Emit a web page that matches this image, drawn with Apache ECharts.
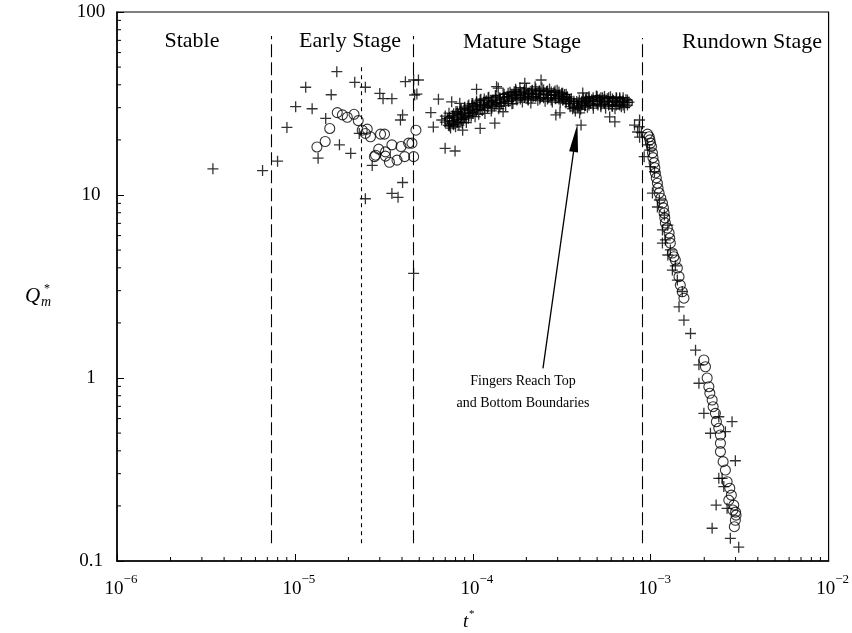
<!DOCTYPE html>
<html>
<head>
<meta charset="utf-8">
<script src="https://cdn.jsdelivr.net/npm/echarts@6/dist/echarts.min.js"></script>
<style>
  html, body { margin: 0; padding: 0; background: #fff; }
  #chart { width: 852px; height: 633px; }
</style>
</head>
<body>
<div id="chart"></div>
<script>
// Axis decades and minor-tick multipliers
const xDecades = [1e-6, 1e-5, 1e-4, 1e-3, 1e-2];
const yDecades = [0.1, 1, 10, 100];
const minorSteps = [2, 3, 4, 5, 6, 7, 8, 9];

// Stage boundaries (t*) and the Q* span of each dashed divider
const stageBounds = [7.4e-6, 2.36e-5, 4.61e-5, 9.0e-4];
const stageTops = [74, 50, 74, 72];
const stageBottom = 0.125;
const stageNames = ['Stable', 'Early Stage', 'Mature Stage', 'Rundown Stage'];

// "+" series: (t*, Qm*)
const plusEarly = [
  [3.46e-6, 13.9], [6.58e-6, 13.6], [7.99e-6, 15.3], [9.02e-6, 23.4], [1.01e-5, 30.4],
  [1.15e-5, 38.8], [1.25e-5, 29.6], [1.49e-5, 26.2], [1.35e-5, 15.9], [1.60e-5, 35.3],
  [1.72e-5, 47.2], [1.78e-5, 18.8], [2.06e-5, 16.9], [2.17e-5, 41.3], [2.30e-5, 21.7],
  [2.49e-5, 38.8], [2.72e-5, 14.5], [2.49e-5, 9.54], [3.00e-5, 35.9], [3.13e-5, 33.6],
  [3.51e-5, 33.6], [3.51e-5, 10.2], [3.80e-5, 9.71], [4.03e-5, 11.7], [3.92e-5, 25.7],
  [4.03e-5, 27.4], [4.18e-5, 41.6], [4.65e-5, 42.5], [4.71e-5, 35.2], [4.65e-5, 3.73]
];
const plusMature = [
  [4.95e-5, 42.5], [4.85e-5, 35.6], [5.81e-5, 28.2], [6.00e-5, 23.5], [6.41e-5, 33.4],
  [6.69e-5, 25.7], [6.99e-5, 18.0], [7.95e-5, 17.4], [7.61e-5, 32.3], [8.45e-5, 31.7],
  [8.77e-5, 22.6], [1.05e-4, 37.8], [1.36e-4, 39.1], [1.71e-4, 36.7], [1.96e-4, 40.8],
  [1.33e-4, 24.7], [1.10e-4, 23.1], [1.48e-4, 28.5], [2.42e-4, 42.5], [3.09e-4, 28.1],
  [3.99e-4, 28.1], [4.06e-4, 24.1], [4.37e-4, 33.9], [5.88e-4, 26.7], [6.29e-4, 25.1],
  [4.15e-4, 36.1], [2.93e-4, 27.4], [1.39e-4, 38.4],
  [7.0e-5, 27.0], [7.0e-5, 25.0], [7.4e-5, 24.5], [7.4e-5, 26.5], [7.4e-5, 23.8],
  [7.8e-5, 25.5], [7.8e-5, 27.8], [7.8e-5, 24.2], [8.2e-5, 26.0], [8.2e-5, 28.5],
  [8.2e-5, 24.8], [8.6e-5, 27.5], [8.6e-5, 25.8], [8.6e-5, 29.5], [9.0e-5, 28.0],
  [9.0e-5, 26.5], [9.0e-5, 30.2], [9.5e-5, 29.0], [9.5e-5, 27.2], [9.5e-5, 31.0],
  [1.0e-4, 29.5], [1.0e-4, 31.5], [1.0e-4, 28.0], [1.05e-4, 30.5], [1.05e-4, 32.0],
  [1.05e-4, 28.8], [1.1e-4, 31.0], [1.1e-4, 29.5], [1.1e-4, 33.0], [1.16e-4, 31.5],
  [1.16e-4, 30.0], [1.16e-4, 33.5], [1.22e-4, 32.0], [1.22e-4, 30.5], [1.22e-4, 34.0],
  [1.28e-4, 32.5], [1.28e-4, 31.0], [1.28e-4, 29.8], [1.35e-4, 33.0], [1.35e-4, 31.5],
  [1.35e-4, 34.5], [1.42e-4, 33.5], [1.42e-4, 32.0], [1.42e-4, 30.5], [1.5e-4, 34.0],
  [1.5e-4, 32.5], [1.5e-4, 35.5], [1.58e-4, 34.5], [1.58e-4, 33.0], [1.58e-4, 36.0],
  [1.66e-4, 35.0], [1.66e-4, 33.5], [1.66e-4, 31.5], [1.75e-4, 35.5], [1.75e-4, 34.0],
  [1.75e-4, 37.0], [1.85e-4, 35.0], [1.85e-4, 33.5], [1.85e-4, 36.5], [1.95e-4, 35.5],
  [1.95e-4, 34.0], [1.95e-4, 37.5], [2.05e-4, 36.0], [2.05e-4, 34.5], [2.05e-4, 33.0],
  [2.15e-4, 35.5], [2.15e-4, 37.0], [2.15e-4, 34.0], [2.26e-4, 36.0], [2.26e-4, 34.5],
  [2.26e-4, 38.0], [2.38e-4, 35.5], [2.38e-4, 33.5], [2.38e-4, 37.0], [2.5e-4, 36.0],
  [2.5e-4, 34.0], [2.5e-4, 37.5], [2.63e-4, 35.5], [2.63e-4, 33.5], [2.63e-4, 37.0],
  [2.76e-4, 35.0], [2.76e-4, 36.5], [2.76e-4, 33.0], [2.9e-4, 35.5], [2.9e-4, 34.0],
  [2.9e-4, 37.0], [3.05e-4, 35.0], [3.05e-4, 33.5], [3.05e-4, 36.5], [3.2e-4, 34.5],
  [3.2e-4, 33.0], [3.2e-4, 36.0], [3.35e-4, 34.0], [3.35e-4, 32.5], [3.35e-4, 35.5],
  [3.5e-4, 33.0], [3.5e-4, 31.5], [3.7e-4, 31.0], [3.7e-4, 32.5], [3.7e-4, 30.0],
  [3.9e-4, 30.5], [3.9e-4, 31.8], [4.1e-4, 31.0], [4.1e-4, 32.5], [4.3e-4, 32.0],
  [4.3e-4, 33.5], [4.3e-4, 30.8], [4.5e-4, 32.5], [4.5e-4, 34.0], [4.5e-4, 31.0],
  [4.75e-4, 32.5], [4.75e-4, 31.0], [4.75e-4, 34.0], [5.0e-4, 33.0], [5.0e-4, 31.5],
  [5.0e-4, 34.5], [5.25e-4, 32.5], [5.25e-4, 31.0], [5.25e-4, 34.0], [5.5e-4, 33.0],
  [5.5e-4, 31.5], [5.5e-4, 34.5], [5.8e-4, 32.5], [5.8e-4, 31.0], [5.8e-4, 34.0],
  [6.1e-4, 32.0], [6.1e-4, 33.5], [6.1e-4, 30.5], [6.4e-4, 32.5], [6.4e-4, 31.0],
  [6.4e-4, 34.0], [6.7e-4, 32.0], [6.7e-4, 33.5], [6.7e-4, 31.0], [7.0e-4, 32.5],
  [7.0e-4, 31.0], [7.0e-4, 34.0], [7.4e-4, 32.0], [7.4e-4, 33.0],
  // denser core of the plateau
  [7.2e-5, 26.2], [7.3e-5, 24.0], [7.35e-5, 28.0], [7.5e-5, 23.2], [7.6e-5, 25.3],
  [7.7e-5, 27.1], [7.75e-5, 24.4], [7.9e-5, 26.6], [8.0e-5, 23.6], [8.05e-5, 28.6],
  [8.15e-5, 25.0], [8.3e-5, 27.3], [8.35e-5, 24.1], [8.5e-5, 26.0], [8.55e-5, 29.2],
  [8.7e-5, 24.8], [8.8e-5, 27.9], [8.85e-5, 25.9], [9.0e-5, 29.8], [9.05e-5, 26.8],
  [9.2e-5, 24.9], [9.3e-5, 28.4], [9.4e-5, 30.6], [9.45e-5, 26.3],
  [9.7e-5, 29.1], [9.8e-5, 27.0], [9.9e-5, 31.6], [1.0e-4, 28.4], [1.02e-4, 30.2],
  [1.03e-4, 26.8], [1.05e-4, 32.6], [1.06e-4, 29.4], [1.08e-4, 27.6], [1.1e-4, 31.2],
  [1.11e-4, 33.4], [1.13e-4, 29.0], [1.15e-4, 30.8], [1.17e-4, 27.9], [1.19e-4, 32.7],
  [1.21e-4, 30.0], [1.23e-4, 34.2], [1.25e-4, 31.4], [1.27e-4, 28.8], [1.3e-4, 33.0],
  [1.32e-4, 30.6], [1.34e-4, 35.0], [1.37e-4, 32.1], [1.4e-4, 29.6], [1.42e-4, 34.0],
  [1.45e-4, 31.6], [1.48e-4, 35.6], [1.5e-4, 33.1], [1.53e-4, 30.8], [1.56e-4, 34.6],
  [1.59e-4, 32.4],
  [1.62e-4, 36.4], [1.65e-4, 33.8], [1.68e-4, 31.6], [1.71e-4, 35.2], [1.74e-4, 37.8],
  [1.77e-4, 33.0], [1.8e-4, 35.9], [1.84e-4, 38.6], [1.87e-4, 34.3], [1.9e-4, 32.2],
  [1.94e-4, 36.6], [1.97e-4, 34.8], [2.0e-4, 38.2], [2.04e-4, 33.4], [2.08e-4, 36.0],
  [2.12e-4, 31.8], [2.16e-4, 37.4], [2.2e-4, 34.6], [2.24e-4, 39.0], [2.28e-4, 35.6],
  [2.32e-4, 32.9], [2.36e-4, 37.0], [2.4e-4, 34.1], [2.45e-4, 38.4], [2.5e-4, 35.2],
  [2.55e-4, 32.5], [2.6e-4, 36.8], [2.65e-4, 34.0], [2.7e-4, 38.0], [2.75e-4, 35.0],
  [2.8e-4, 32.2], [2.86e-4, 36.4], [2.92e-4, 33.6], [2.98e-4, 37.4], [3.04e-4, 34.6],
  [3.1e-4, 32.0], [3.16e-4, 36.0], [3.22e-4, 33.2], [3.28e-4, 35.4], [3.34e-4, 31.8],
  [3.4e-4, 34.4],
  [3.46e-4, 32.6], [3.52e-4, 30.4], [3.58e-4, 33.6], [3.64e-4, 29.6], [3.7e-4, 31.8],
  [3.77e-4, 28.8], [3.84e-4, 32.4], [3.9e-4, 30.0], [3.97e-4, 33.0], [4.04e-4, 29.4],
  [4.1e-4, 31.4], [4.18e-4, 33.8], [4.25e-4, 30.6],
  [4.33e-4, 32.8], [4.41e-4, 30.2], [4.5e-4, 34.4], [4.58e-4, 31.6], [4.67e-4, 33.2],
  [4.76e-4, 29.8], [4.86e-4, 32.4], [4.95e-4, 34.8], [5.05e-4, 31.0], [5.15e-4, 33.4],
  [5.25e-4, 30.4], [5.36e-4, 34.0], [5.47e-4, 32.0], [5.58e-4, 29.8], [5.7e-4, 33.6],
  [5.82e-4, 31.2], [5.94e-4, 34.4], [6.06e-4, 30.6], [6.18e-4, 32.8], [6.3e-4, 29.6],
  [6.43e-4, 33.8], [6.56e-4, 31.4], [6.7e-4, 34.0], [6.84e-4, 30.4], [6.98e-4, 32.6],
  [7.12e-4, 30.0], [7.26e-4, 33.2], [7.4e-4, 31.0], [7.55e-4, 32.2]
];
const plusRundown = [
  [8.11e-4, 24.1], [8.44e-4, 22.1], [8.62e-4, 23.6], [8.66e-4, 25.7], [8.87e-4, 21.9],
  [8.66e-4, 20.7], [9.19e-4, 16.2], [9.59e-4, 18.8], [9.84e-4, 17.6], [9.97e-4, 14.3],
  [1.05e-3, 13.4], [1.023e-3, 10.25], [1.091e-3, 8.6], [1.119e-3, 9.39], [1.164e-3, 6.44],
  [1.194e-3, 7.77], [1.209e-3, 5.68], [1.249e-3, 6.85], [1.164e-3, 5.46], [1.29e-3, 5.01],
  [1.249e-3, 4.7], [1.324e-3, 3.89], [1.376e-3, 4.1], [1.412e-3, 3.43], [1.505e-3, 2.97],
  [1.443e-3, 2.45], [1.538e-3, 2.07], [1.675e-3, 1.75], [1.787e-3, 1.42], [1.867e-3, 1.18],
  [1.867e-3, 0.936], [1.991e-3, 0.641], [2.415e-3, 0.614], [2.167e-3, 0.499], [2.63e-3, 0.509],
  [2.866e-3, 0.577], [2.992e-3, 0.353], [2.52e-3, 0.283], [2.415e-3, 0.283], [2.576e-3, 0.255],
  [2.333e-3, 0.202], [2.688e-3, 0.194], [2.215e-3, 0.151], [2.804e-3, 0.133], [3.125e-3, 0.119]
];

// "o" series: (t*, Qm*)
const circEarly = [
  [1.33e-5, 18.3], [1.48e-5, 19.6], [1.57e-5, 23.1], [1.73e-5, 28.2], [1.85e-5, 27.4],
  [1.97e-5, 26.6], [2.15e-5, 27.6], [2.27e-5, 25.5], [2.39e-5, 22.6], [2.55e-5, 22.9],
  [2.49e-5, 21.7], [2.66e-5, 20.8], [3.03e-5, 21.5], [3.19e-5, 21.5], [2.84e-5, 16.5],
  [2.96e-5, 17.8], [3.23e-5, 17.2], [3.51e-5, 18.8], [3.40e-5, 15.1], [3.75e-5, 15.5],
  [3.95e-5, 18.4], [4.14e-5, 16.2], [4.36e-5, 19.2], [4.55e-5, 19.2], [4.65e-5, 16.2],
  [4.79e-5, 22.6], [2.80e-5, 16.2], [3.23e-5, 16.3]
];
const circMature = [
  [7.4e-5, 25.5], [8.2e-5, 26.5], [9.0e-5, 28.0], [1.0e-4, 29.8], [1.1e-4, 31.0],
  [1.22e-4, 32.0], [1.35e-4, 33.0], [1.5e-4, 33.8], [1.66e-4, 34.5], [1.85e-4, 35.0],
  [2.05e-4, 35.5], [2.26e-4, 35.5], [2.5e-4, 35.3], [2.76e-4, 35.0], [3.05e-4, 34.5],
  [3.35e-4, 33.5], [3.7e-4, 31.5], [4.1e-4, 31.5], [4.5e-4, 32.5], [5.0e-4, 33.0],
  [5.5e-4, 33.0], [6.1e-4, 32.5], [6.7e-4, 32.5], [7.4e-4, 32.0]
];
const circRundown = [
  [9.6e-4, 21.5], [9.8e-4, 20.8], [9.9e-4, 20.0], [9.97e-4, 19.2], [1.01e-3, 18.4],
  [1.023e-3, 17.0], [1.03e-3, 16.0], [1.045e-3, 15.0], [1.055e-3, 14.1], [1.063e-3, 13.2],
  [1.075e-3, 12.4], [1.091e-3, 11.6], [1.10e-3, 10.9], [1.115e-3, 10.25], [1.14e-3, 9.6],
  [1.164e-3, 9.04], [1.18e-3, 8.5], [1.19e-3, 7.97], [1.20e-3, 7.5], [1.209e-3, 7.03],
  [1.24e-3, 6.6], [1.269e-3, 6.2], [1.28e-3, 5.8], [1.29e-3, 5.46], [1.324e-3, 4.82],
  [1.35e-3, 4.6], [1.376e-3, 4.41], [1.412e-3, 3.99], [1.443e-3, 3.58], [1.467e-3, 3.22],
  [1.505e-3, 2.96], [1.538e-3, 2.73],
  [1.991e-3, 1.254], [2.032e-3, 1.152], [2.077e-3, 1.0], [2.123e-3, 0.896], [2.15e-3, 0.825],
  [2.215e-3, 0.758], [2.244e-3, 0.697], [2.311e-3, 0.641], [2.341e-3, 0.577], [2.415e-3, 0.531],
  [2.466e-3, 0.488], [2.466e-3, 0.44], [2.466e-3, 0.396], [2.553e-3, 0.349], [2.63e-3, 0.314],
  [2.688e-3, 0.271], [2.783e-3, 0.25], [2.841e-3, 0.229], [2.748e-3, 0.215], [2.931e-3, 0.202],
  [3.019e-3, 0.178], [2.992e-3, 0.167], [2.953e-3, 0.154], [3.0e-3, 0.185], [2.9e-3, 0.19]
];

// Annotation arrow: tail under the text, head at the onset of the plateau dip
const arrowTail = [2.48e-4, 1.13];
const arrowHead = [3.78e-4, 20.5];

const SERIF = '"Liberation Serif", "DejaVu Serif", serif';

const xMinor = [];
xDecades.slice(0, -1).forEach(d => minorSteps.forEach(m => xMinor.push(d * m)));
const yMinor = [];
yDecades.slice(0, -1).forEach(d => minorSteps.forEach(m => yMinor.push(d * m)));

const chart = echarts.init(document.getElementById('chart'), null, { renderer: 'canvas' });

const plusPath = 'path://M6,0 L6,12 M0,6 L12,6';

function minorTickSeries(values, horizontal) {
  return {
    type: 'custom',
    silent: true,
    clip: false,
    z: 5,
    data: values.map(v => horizontal ? [v, yDecades[0]] : [xDecades[0], v]),
    renderItem: (params, api) => {
      const c = api.coord([api.value(0), api.value(1)]);
      const shape = horizontal
        ? { x1: c[0], y1: c[1], x2: c[0], y2: c[1] - 4 }
        : { x1: c[0], y1: c[1], x2: c[0] + 4, y2: c[1] };
      return { type: 'line', shape, style: { stroke: '#000', lineWidth: 1 } };
    }
  };
}

const stageLines = stageBounds.map((x, i) => [
  { coord: [x, stageBottom], lineStyle: { type: i === 1 ? [4, 4] : [13, 5] } },
  { coord: [x, stageTops[i]] }
]);

function label(text, x, y, font) {
  return { type: 'text', x, y, style: { text, font, fill: '#000', align: 'center', verticalAlign: 'top' } };
}

const stageFont = '22px ' + SERIF;

const option = {
  backgroundColor: '#fff',
  animation: false,
  grid: {
    left: 117, right: 20, top: 12, bottom: 72,
    show: true, borderColor: '#000', borderWidth: 1.2, backgroundColor: 'transparent'
  },
  xAxis: {
    type: 'log', logBase: 10, min: xDecades[0], max: xDecades[xDecades.length - 1],
    axisLine: { lineStyle: { color: '#000', width: 1.5 } },
    axisTick: { inside: true, length: 7, lineStyle: { color: '#000', width: 1 } },
    splitLine: { show: false },
    axisLabel: {
      margin: 12,
      padding: [0, 0, 0, 8],
      formatter: v => '{b|10}{s|−' + Math.round(-Math.log10(v)) + '}',
      rich: {
        b: { fontFamily: SERIF, fontSize: 19, color: '#000', lineHeight: 26, verticalAlign: 'bottom' },
        s: { fontFamily: SERIF, fontSize: 13, color: '#000', lineHeight: 13, verticalAlign: 'top' }
      }
    }
  },
  yAxis: {
    type: 'log', logBase: 10, min: yDecades[0], max: yDecades[yDecades.length - 1],
    axisLine: { lineStyle: { color: '#000', width: 1.5 } },
    axisTick: { inside: true, length: 7, lineStyle: { color: '#000', width: 1 } },
    splitLine: { show: false },
    axisLabel: {
      margin: 26, align: 'center', fontFamily: SERIF, fontSize: 19, color: '#000',
      formatter: v => String(v)
    }
  },
  graphic: [
    label(stageNames[0], 192, 30, stageFont),
    label(stageNames[1], 350, 30, stageFont),
    label(stageNames[2], 522, 31, stageFont),
    label(stageNames[3], 752, 31, stageFont),
    label('Fingers Reach Top', 523, 374, '14px ' + SERIF),
    label('and Bottom Boundaries', 523, 396, '14px ' + SERIF),
    { type: 'text', left: 25, top: 286, style: { text: 'Q', font: 'italic 21px ' + SERIF, fill: '#000' } },
    { type: 'text', left: 41, top: 295, style: { text: 'm', font: 'italic 14px ' + SERIF, fill: '#000' } },
    { type: 'text', left: 44, top: 283, style: { text: '*', font: '12px ' + SERIF, fill: '#000' } },
    { type: 'text', left: 463, top: 612, style: { text: 't', font: 'italic 19px ' + SERIF, fill: '#000' } },
    { type: 'text', left: 469, top: 609, style: { text: '*', font: '11px ' + SERIF, fill: '#000' } }
  ],
  series: [
    {
      name: '+',
      type: 'scatter',
      symbol: plusPath,
      symbolSize: 11,
      itemStyle: { color: 'none', borderColor: '#000', borderWidth: 1.3 },
      data: plusEarly.concat(plusMature, plusRundown),
      z: 3,
      markLine: {
        silent: true,
        symbol: ['none', 'none'],
        label: { show: false },
        lineStyle: { color: '#000', width: 1.1 },
        data: stageLines
      }
    },
    {
      name: 'o',
      type: 'scatter',
      symbol: 'circle',
      symbolSize: 10,
      itemStyle: { color: 'rgba(0,0,0,0)', borderColor: '#000', borderWidth: 1.1 },
      data: circEarly.concat(circMature, circRundown),
      z: 4,
      markLine: {
        silent: true,
        symbol: ['none', 'triangle'],
        symbolSize: [9, 28],
        label: { show: false },
        lineStyle: { color: '#000', width: 1.3, type: 'solid' },
        itemStyle: { color: '#000' },
        data: [[{ coord: arrowTail }, { coord: arrowHead }]]
      }
    },
    minorTickSeries(xMinor, true),
    minorTickSeries(yMinor, false)
  ]
};

chart.setOption(option);
</script>
</body>
</html>
